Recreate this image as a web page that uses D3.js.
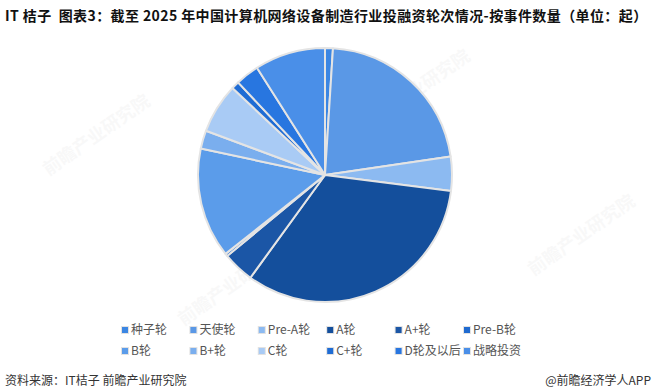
<!DOCTYPE html>
<html>
<head>
<meta charset="utf-8">
<script src="https://cdn.jsdelivr.net/npm/d3@7"></script>
<style>
  body { margin: 0; background: #fff; }
  svg { display: block; font-family: 'Noto Sans CJK SC', 'Noto Sans', sans-serif; }
</style>
</head>
<body>
<div id="container"></div>
<script>
const rounds = ['种子轮', '天使轮', 'Pre-A轮', 'A轮', 'A+轮', 'Pre-B轮', 'B轮', 'B+轮', 'C轮', 'C+轮', 'D轮及以后', '战略投资'];
const counts = [3, 65, 13, 99, 12, 1, 42, 7, 19, 3, 9, 27];
const colors = ['#3b86e3', '#5a98e6', '#8cbaf1', '#144f9c', '#1b56a6', '#1f6ad0',
                '#5b9cea', '#7aaeee', '#a9cbf5', '#1f6cd4', '#2876e0', '#4a8fe8'];

const w = 656;
const h = 392;

const svg = d3.select('#container')
  .append('svg')
  .attr('width', w)
  .attr('height', h);

// faint watermarks
const marks = [[100, 140], [420, 95], [585, 240], [235, 290]];
svg.selectAll('.wm')
  .data(marks)
  .enter()
  .append('text')
  .attr('class', 'wm')
  .attr('transform', d => `translate(${d[0]},${d[1]}) rotate(-35)`)
  .attr('text-anchor', 'middle')
  .style('font-size', '18px')
  .style('font-weight', 'bold')
  .style('fill', '#000')
  .style('opacity', 0.025)
  .text('前瞻产业研究院');

svg.append('text')
  .attr('x', 5)
  .attr('y', 21)
  .style('font-size', '14px')
  .style('font-weight', 'bold')
  .style('letter-spacing', '0.4px')
  .style('white-space', 'pre')
  .style('fill', '#111')
  .text('IT 桔子  图表3：截至 2025 年中国计算机网络设备制造行业投融资轮次情况-按事件数量（单位：起）');

const color = d3.scaleOrdinal().domain(rounds).range(colors);

const pie = d3.pie().sort(null).value(d => d[1]);
const arc = d3.arc().innerRadius(0).outerRadius(127);

const g = svg.append('g').attr('transform', 'translate(325,175)');

g.selectAll('path')
  .data(pie(rounds.map((r, i) => [r, counts[i]])))
  .enter()
  .append('path')
  .attr('d', arc)
  .attr('fill', d => color(d.data[0]))
  .attr('stroke', '#e4e4e4')
  .attr('stroke-width', 2)
  .attr('stroke-linejoin', 'round');

// legend
const legend = svg.selectAll('.legend')
  .data(rounds)
  .enter()
  .append('g')
  .attr('class', 'legend')
  .attr('transform', (d, i) => `translate(${125 + (i % 6) * 68.4},${i < 6 ? 330 : 351})`);

legend.append('rect')
  .attr('x', -4)
  .attr('y', -4)
  .attr('width', 8)
  .attr('height', 8)
  .style('fill', '#e2e2e2');

legend.append('rect')
  .attr('x', -3)
  .attr('y', -3)
  .attr('width', 6)
  .attr('height', 6)
  .style('fill', d => color(d));

legend.append('text')
  .attr('x', 6)
  .attr('y', 0)
  .attr('dy', '.36em')
  .style('font-size', '12px')
  .style('fill', '#555')
  .text(d => d);

svg.append('text')
  .attr('x', 5)
  .attr('y', 385)
  .style('font-size', '12px')
  .style('fill', '#333')
  .text('资料来源：IT桔子 前瞻产业研究院');

svg.append('text')
  .attr('x', 651)
  .attr('y', 385)
  .attr('text-anchor', 'end')
  .style('font-size', '12px')
  .style('fill', '#333')
  .text('@前瞻经济学人APP');
</script>
</body>
</html>
